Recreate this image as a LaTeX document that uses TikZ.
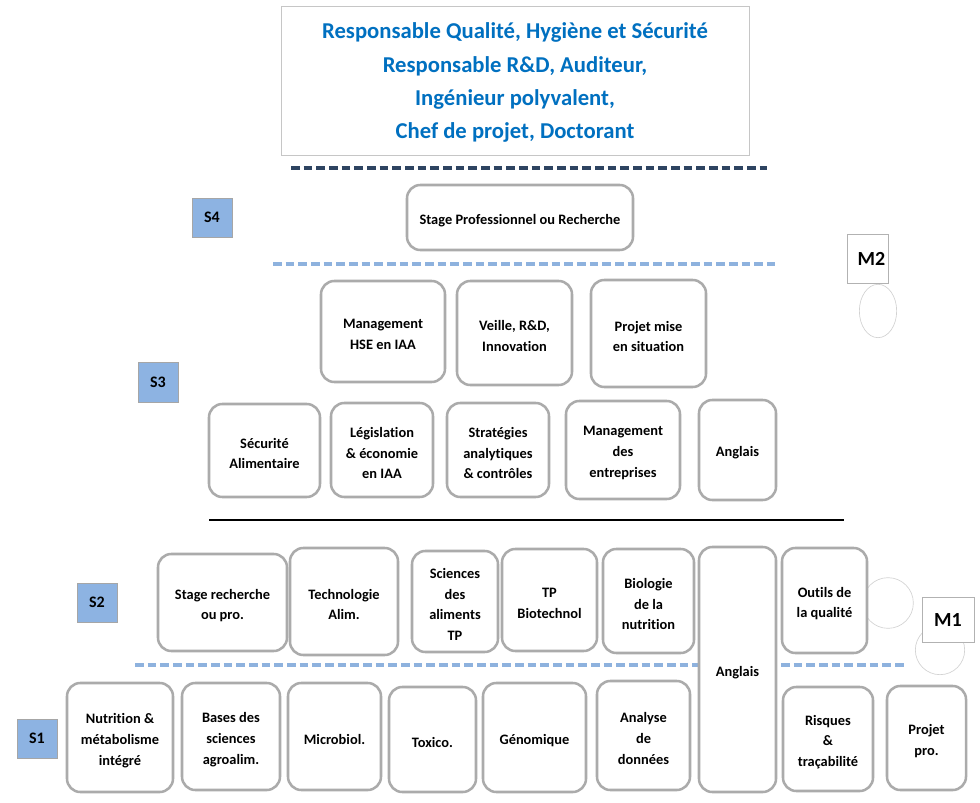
\documentclass[tikz,border=0pt]{standalone}
\usepackage{fontspec}
\setmainfont{Carlito}[RawFeature={-liga}]
\usetikzlibrary{shapes.geometric}
\definecolor{boxgray}{HTML}{ABABAB}
\definecolor{lblblue}{HTML}{8DB3E2}
\definecolor{topblue}{HTML}{0070C0}
\definecolor{navy}{HTML}{2E4461}
\definecolor{lightdash}{HTML}{8EB2DE}
\tikzset{
  course/.style={draw=boxgray, line width=1.9pt, rounded corners=10pt, fill=white, inner sep=0pt},
  course txt/.style={inner sep=0pt, align=center, yshift=-2.3pt,
    font=\fontsize{10.8}{15.5}\selectfont\bfseries},
  semlbl/.style={draw=gray!70, line width=0.6pt, fill=lblblue, inner sep=0pt},
  semlbl txt/.style={inner sep=0pt, font=\fontsize{12}{14}\selectfont\bfseries},
  mlbl/.style={draw=gray!60, line width=0.5pt, fill=white, inner sep=0pt},
  mlbl txt/.style={inner sep=0pt, font=\fontsize{15}{18}\selectfont\bfseries},
  topbox/.style={draw=gray!45, line width=0.6pt, fill=white, inner sep=0pt},
  topbox txt/.style={inner sep=0pt, align=center, yshift=-1.8pt,
    font=\fontsize{17}{25}\selectfont\bfseries, text=topblue},
  ghost/.style={draw=gray!35, line width=0.5pt},
  navydash/.style={draw=navy, line width=2.5pt, dash pattern=on 6.5pt off 3pt},
  bluedash/.style={draw=lightdash, line width=2.5pt, dash pattern=on 6.5pt off 3pt},
}
% #1 style, #2 name, #3 x1, #4 y1, #5 x2, #6 y2 (pixels), #7 text
\newcommand\pxbox[7]{%
  \pgfmathsetmacro\bcx{(#3+#5)/2}%
  \pgfmathsetmacro\bcy{(#4+#6)/2}%
  \pgfmathsetmacro\bww{(#5-#3)*0.75}%
  \pgfmathsetmacro\bhh{(#6-#4)*0.75}%
  \node[#1, minimum width=\bww pt, minimum height=\bhh pt] (#2) at (\bcx,\bcy) {};
  \node[#1 txt] (#2-t) at (#2.center) {#7};}
\begin{document}
\begin{tikzpicture}[x=0.75pt,y=-0.75pt]
\useasboundingbox (0,0) rectangle (980,802);
% top box
\pxbox{topbox}{top}{281}{6}{749}{155}{Responsable Qualité, Hygiène et Sécurité\\Responsable R\&D, Auditeur,\\Ingénieur polyvalent,\\Chef de projet, Doctorant}
% separators
\coordinate (d1a) at (291,168); \coordinate (d1b) at (767,168);
\draw[navydash] (d1a) -- (d1b);
\coordinate (d2a) at (273,264); \coordinate (d2b) at (775,264);
\draw[bluedash] (d2a) -- (d2b);
\coordinate (s1a) at (209,520); \coordinate (s1b) at (844,520);
\draw[black, line width=2.2pt] (s1a) -- (s1b);
\coordinate (d3a) at (135,665); \coordinate (d3b) at (905,665);
\draw[bluedash] (d3a) -- (d3b);

% semester labels
\pxbox{semlbl}{S4}{192}{198}{232}{237}{S4}
\pxbox{semlbl}{S3}{138}{362}{178}{402}{S3}
\pxbox{semlbl}{S2}{77}{583}{117}{622}{S2}
\pxbox{semlbl}{S1}{17}{719}{57}{758}{S1}

% M2
\node[ghost, ellipse, minimum width=28pt, minimum height=40pt, inner sep=0pt] (c2) at (878,311) {};
\pxbox{mlbl}{M2}{847}{234}{888}{283}{\hspace*{6pt}M2}
% M1
\node[ghost, circle, minimum size=38pt, inner sep=0pt] (c1a) at (888,603) {};
\node[ghost, circle, minimum size=37pt, inner sep=0pt] (c1b) at (940,650) {};
\pxbox{mlbl}{M1}{922}{597}{974}{642}{M1}

% S4
\pxbox{course}{stage4}{407}{185}{633}{250}{Stage Professionnel ou Recherche}

% S3 row 1
\pxbox{course}{mhse}{321}{281}{445}{382}{Management\\HSE en IAA}
\pxbox{course}{veille}{457}{281}{572}{385}{Veille, R\&D,\\Innovation}
\pxbox{course}{projms}{591}{280}{706}{387}{Projet mise\\en situation}
% S3 row 2
\pxbox{course}{secu}{209}{404}{320}{497}{Sécurité\\Alimentaire}
\pxbox{course}{legis}{331}{403}{433}{497}{Législation\\\& économie\\en IAA}
\pxbox{course}{strat}{447}{403}{549}{497}{Stratégies\\analytiques\\\& contrôles}
\pxbox{course}{mgmt}{566}{401}{680}{499}{Management\\des\\entreprises}
\pxbox{course}{ang3}{699}{400}{776}{500}{Anglais}

% S2
\pxbox{course}{stage2}{158}{554}{287}{651}{Stage recherche\\ou pro.}
\pxbox{course}{techno}{290}{548}{398}{655}{Technologie\\Alim.}
\pxbox{course}{scal}{412}{551}{498}{652}{Sciences\\des\\aliments\\TP}
\pxbox{course}{tpbio}{502}{549}{597}{651}{TP\\Biotechnol}
\pxbox{course}{bionut}{603}{549}{694}{653}{Biologie\\de la\\nutrition}
\pxbox{course}{ang12}{699}{547}{776}{792}{Anglais}
\pxbox{course}{outils}{782}{548}{867}{653}{Outils de\\la qualité}

% S1
\pxbox{course}{nutri}{67}{683}{173}{792}{Nutrition \&\\métabolisme\\intégré}
\pxbox{course}{bases}{182}{683}{280}{790}{Bases des\\sciences\\agroalim.}
\pxbox{course}{micro}{288}{683}{381}{790}{Microbiol.}
\pxbox{course}{toxico}{389}{687}{476}{792}{Toxico.}
\pxbox{course}{genom}{483}{683}{586}{792}{Génomique}
\pxbox{course}{analyse}{597}{681}{690}{790}{Analyse\\de\\données}
\pxbox{course}{risques}{783}{687}{873}{791}{Risques\\\&\\traçabilité}
\pxbox{course}{projpro}{887}{686}{966}{790}{Projet\\pro.}
\end{tikzpicture}
\end{document}
